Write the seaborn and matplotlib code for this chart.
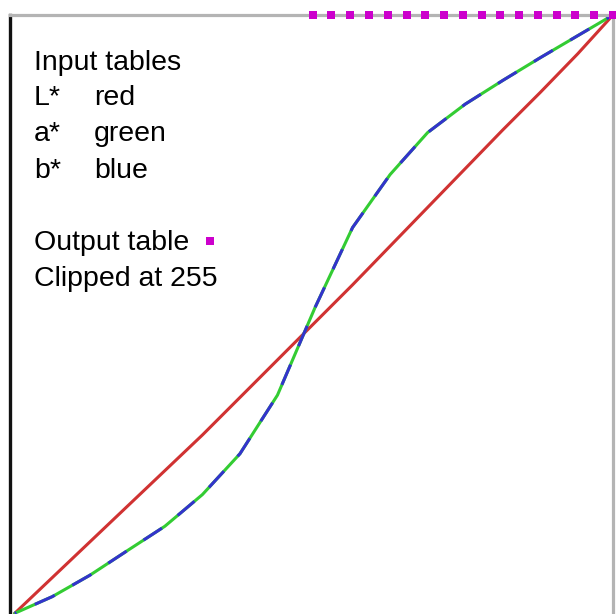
import matplotlib
matplotlib.use("Agg")
import matplotlib.pyplot as plt
import seaborn as sns
import pandas as pd

# Input tables (0-255 grid)
grid_x = [0, 16, 32, 48, 64, 80, 96, 112, 128, 144, 160, 176, 192, 208, 224, 240, 255]
l_star = [0, 15.2, 30.4, 45.6, 60.8, 76.0, 92.0, 108.0, 124.0, 140.0, 156.5, 173.0, 189.5, 206.0, 222.0, 238.5, 255]
ab_star = [0, 7.1, 16.2, 26.7, 37.1, 50.6, 68.0, 93.0, 130.3, 164.4, 187.0, 204.9, 217.0, 227.1, 236.8, 246.2, 255]

# Output table entries that were clipped at 255
out_x = [127, 135, 143, 151, 159, 167, 175, 183, 191, 199, 207, 215, 223, 231, 239, 247, 255]
out_y = [255] * len(out_x)

legend_lines = ["Input tables", "L*", "a*", "b*", "", "Output table", "Clipped at 255"]
legend_names = ["", "red", "green", "blue", "", "", ""]

sns.set_style("white")
plt.rcParams["font.family"] = ["Liberation Sans", "DejaVu Sans"]

fig = plt.figure(figsize=(6.16, 6.14), dpi=100)
ax = fig.add_axes([10 / 616, 1 - 618 / 614, 603 / 616, 603 / 614])

df_in = pd.DataFrame({"x": grid_x, "L": l_star, "ab": ab_star})
df_out = pd.DataFrame({"x": out_x, "y": out_y})

lw = 2.2
sns.lineplot(data=df_in, x="x", y="L", ax=ax, color="#d03232", linewidth=lw,
             sort=False, clip_on=False, zorder=3)
# a* (green) underneath, b* (blue) dashed on top: both follow the same curve
sns.lineplot(data=df_in, x="x", y="ab", ax=ax, color="#33cc33", linewidth=lw,
             sort=False, clip_on=False, zorder=3)
sns.lineplot(data=df_in, x="x", y="ab", ax=ax, color="#3333cc", linewidth=lw,
             sort=False, clip_on=False, zorder=4, linestyle=(6.6, (7.2, 6.6)))
sns.scatterplot(data=df_out, x="x", y="y", ax=ax, marker="s", color="#cc00cc",
                s=30, linewidth=0, clip_on=False, zorder=6)

ax.set_xlim(-2, 255)
ax.set_ylim(-2, 255)
ax.set_xticks([])
ax.set_yticks([])
ax.set_xlabel("")
ax.set_ylabel("")

for side in ["top", "right", "bottom"]:
    ax.spines[side].set_color("#b4b4b4")
    ax.spines[side].set_linewidth(2.3)
ax.spines["left"].set_color("#111111")
ax.spines["left"].set_linewidth(2.4)
for sp in ax.spines.values():
    sp.set_zorder(5)

# Text key in the upper left
baselines_px = [70, 105, 141, 178, 214, 250, 286]
for label, name, py in zip(legend_lines, legend_names, baselines_px):
    yf = 1 - (py - 15) / 603
    if label:
        ax.text(0.0398, yf, label, transform=ax.transAxes, fontsize=20.5,
                va="baseline", ha="left", color="black")
    if name:
        ax.text(0.1393, yf, name, transform=ax.transAxes, fontsize=20.5,
                va="baseline", ha="left", color="black")

ax.plot([0.3317], [0.6252], transform=ax.transAxes, marker="s", color="#cc00cc",
        markersize=5.5, markeredgewidth=0, linestyle="none", clip_on=False)

fig.savefig("out.png", dpi=100)
